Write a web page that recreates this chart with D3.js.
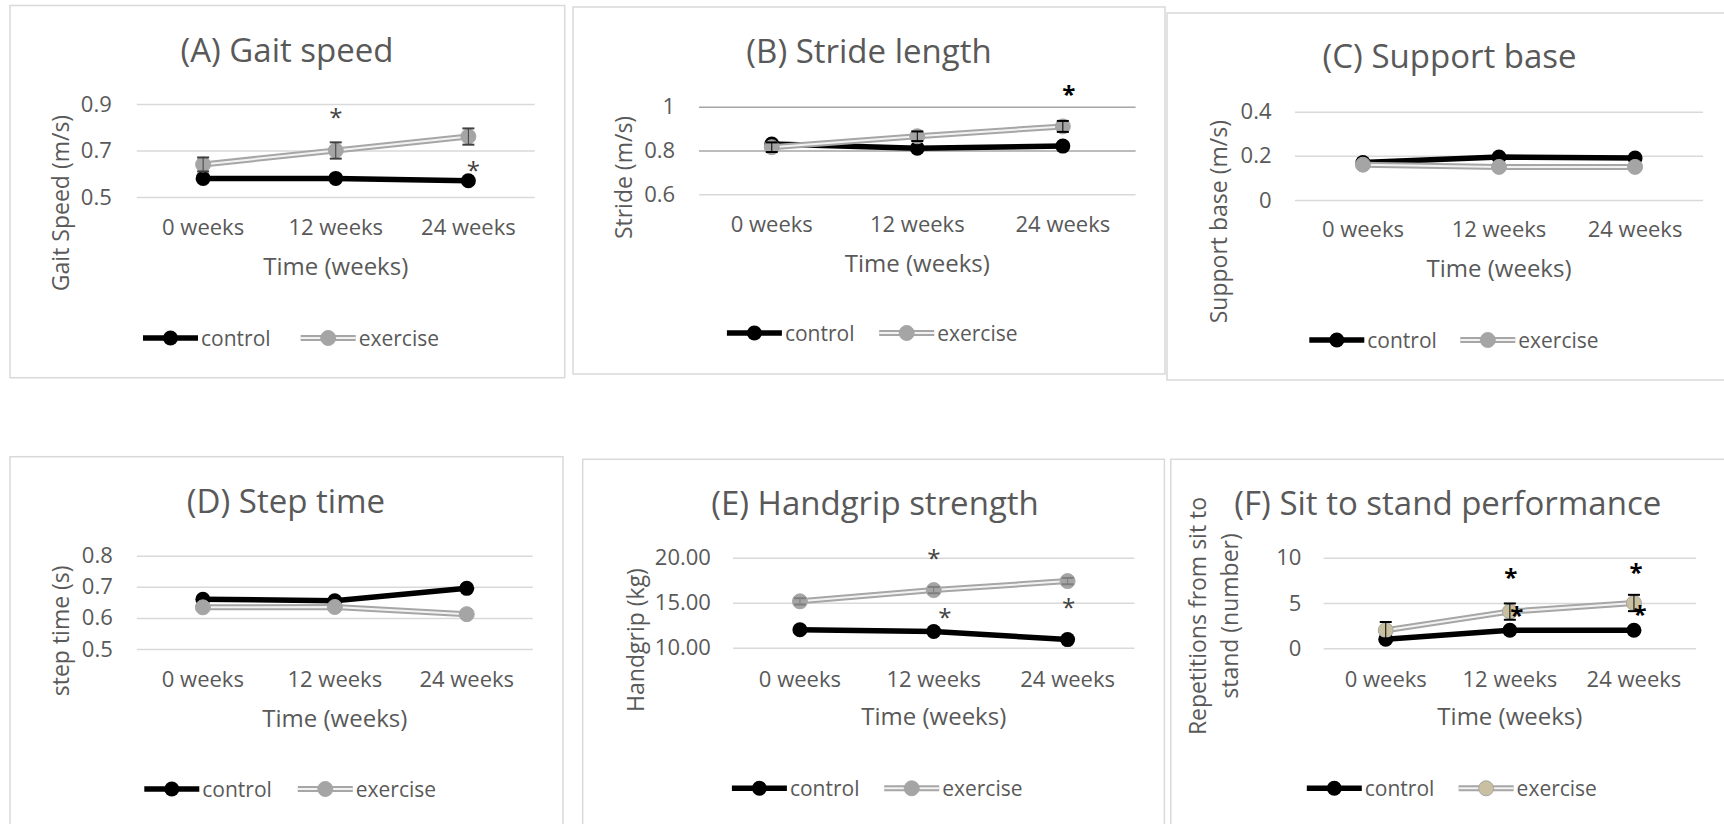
<!DOCTYPE html>
<html>
<head>
<meta charset="utf-8">
<script src="https://cdn.jsdelivr.net/npm/d3@7"></script>
<style>
  body { margin: 0; background: #fff; }
  svg { display: block; }
  text { font-family: "Open Sans", sans-serif; fill: #595959; }
</style>
</head>
<body>
<svg id="chart" width="1724" height="824"></svg>
<script>
// categories shared by all six panels
var weeks = ["0 weeks", "12 weeks", "24 weeks"];
var seriesNames = ["control", "exercise"];

// (A) gait speed
var gaitControl = [0.58, 0.58, 0.57];
var gaitExercise = [0.64, 0.70, 0.76];
var gaitExerciseErr = [0.03, 0.035, 0.035];
var gaitTicks = [0.5, 0.7, 0.9];
var gaitTickLabels = ["0.5", "0.7", "0.9"];
var gaitStars = [{ week: "12 weeks", v: 0.86, dx: 0 }, { week: "24 weeks", v: 0.63, dx: 5 }];

// (B) stride length
var strideControl = [0.83, 0.81, 0.82];
var strideExercise = [0.815, 0.865, 0.91];
var strideExerciseErr = [0.022, 0.022, 0.025];
var strideTicks = [0.6, 0.8, 1];
var strideTickLabels = ["0.6", "0.8", "1"];
var strideStars = [{ week: "24 weeks", v: 1.075, dx: 6 }];

// (C) support base
var baseControl = [0.17, 0.195, 0.19];
var baseExercise = [0.16, 0.15, 0.15];
var baseExerciseErr = [0, 0, 0];
var baseTicks = [0, 0.2, 0.4];
var baseTickLabels = ["0", "0.2", "0.4"];
var baseStars = [];

// (D) step time
var stepControl = [0.66, 0.655, 0.695];
var stepExercise = [0.634, 0.635, 0.612];
var stepExerciseErr = [0, 0, 0];
var stepTicks = [0.5, 0.6, 0.7, 0.8];
var stepTickLabels = ["0.5", "0.6", "0.7", "0.8"];
var stepStars = [];

// (E) handgrip strength
var gripControl = [12.0, 11.8, 10.9];
var gripExercise = [15.15, 16.4, 17.4];
var gripExerciseErr = [0.35, 0.35, 0.35];
var gripTicks = [10, 15, 20];
var gripTickLabels = ["10.00", "15.00", "20.00"];
var gripStars = [{ week: "12 weeks", v: 20.4, dx: 0 }, { week: "12 weeks", v: 13.8, dx: 11 }, { week: "24 weeks", v: 14.9, dx: 1 }];

// (F) sit to stand
var sitControl = [1.0, 2.0, 2.0];
var sitExercise = [2.0, 4.05, 5.0];
var sitExerciseErr = [0.9, 0.9, 0.9];
var sitTicks = [0, 5, 10];
var sitTickLabels = ["0", "5", "10"];
var sitStars = [{ week: "12 weeks", v: 8.3, dx: 1 }, { week: "12 weeks", v: 4.05, dx: 7 }, { week: "24 weeks", v: 8.8, dx: 2 }, { week: "24 weeks", v: 4.2, dx: 6 }];

var panels = [
  { title: "(A) Gait speed", yTitle: ["Gait Speed (m/s)"], control: gaitControl, exercise: gaitExercise, err: gaitExerciseErr,
    ticks: gaitTicks, tickLabels: gaitTickLabels, stars: gaitStars,
    layout: { box: [10, 5.5, 564.7, 377.7], plotX: [136.8, 534.7], yRange: [197, 104], tickRight: 111.8, titleX: 287, titleY: 62,
      xTickY: 235, xTitleY: 275, yTitleX: [60.5], yTitleY: 203, legendY: 338, legendX: [143, 300.7],
      errColor: "#404040", starColor: "#404040", starWeight: "normal", exFill: "#a5a5a5" } },
  { title: "(B) Stride length", yTitle: ["Stride (m/s)"], control: strideControl, exercise: strideExercise, err: strideExerciseErr,
    ticks: strideTicks, tickLabels: strideTickLabels, stars: strideStars,
    layout: { box: [573, 7, 1165, 374], plotX: [699, 1135.6], yRange: [194.3, 106.7], tickRight: 675.2, titleX: 869, titleY: 63,
      xTickY: 231.7, xTitleY: 271.7, yTitleX: [623.6], yTitleY: 177.5, legendY: 333, legendX: [726.9, 879.2],
      gridColors: ["#d9d9d9", "#a6a6a6", "#a6a6a6"],
      errColor: "#000", starColor: "#000", starWeight: "bold", exFill: "#a5a5a5" } },
  { title: "(C) Support base", yTitle: ["Support base (m/s)"], control: baseControl, exercise: baseExercise, err: baseExerciseErr,
    ticks: baseTicks, tickLabels: baseTickLabels, stars: baseStars,
    layout: { box: [1167, 13, 1730, 380], plotX: [1294.9, 1703.1], yRange: [200, 111.7], tickRight: 1271.5, titleX: 1449.6, titleY: 68,
      xTickY: 236.7, xTitleY: 276.7, yTitleX: [1219.4], yTitleY: 221.7, legendY: 340, legendX: [1309.3, 1460.3],
      errColor: "#000", starColor: "#000", starWeight: "bold", exFill: "#a5a5a5" } },
  { title: "(D) Step time", yTitle: ["step time (s)"], control: stepControl, exercise: stepExercise, err: stepExerciseErr,
    ticks: stepTicks, tickLabels: stepTickLabels, stars: stepStars,
    layout: { box: [10, 456.7, 563, 830], plotX: [136.9, 532.7], yRange: [649, 555.7], tickRight: 112.8, titleX: 286, titleY: 513.3,
      xTickY: 686.7, xTitleY: 726.7, yTitleX: [61], yTitleY: 630.8, legendY: 789, legendX: [144.3, 297.8],
      errColor: "#000", starColor: "#000", starWeight: "bold", exFill: "#a5a5a5" } },
  { title: "(E) Handgrip strength", yTitle: ["Handgrip (kg)"], control: gripControl, exercise: gripExercise, err: gripExerciseErr,
    ticks: gripTicks, tickLabels: gripTickLabels, stars: gripStars,
    layout: { box: [582.7, 459.3, 1164.4, 830], plotX: [733, 1134.5], yRange: [647.7, 557.7], tickRight: 710.9, titleX: 875, titleY: 515,
      xTickY: 686.7, xTitleY: 725, yTitleX: [636.2], yTitleY: 640, legendY: 788.3, legendX: [731.9, 884.2],
      errColor: "#7f7f7f", starColor: "#404040", starWeight: "normal", exFill: "#a5a5a5" } },
  { title: "(F) Sit to stand performance", yTitle: ["Repetitions from sit to", "stand (number)"], control: sitControl, exercise: sitExercise, err: sitExerciseErr,
    ticks: sitTicks, tickLabels: sitTickLabels, stars: sitStars,
    layout: { box: [1170.8, 459.3, 1730, 830], plotX: [1323.7, 1696], yRange: [648.3, 557.7], tickRight: 1301.4, titleX: 1447.8, titleY: 515,
      xTickY: 686.7, xTitleY: 725, yTitleX: [1197.8, 1230.1], yTitleY: 616, legendY: 788.3, legendX: [1306.8, 1458.6],
      errColor: "#000", starColor: "#000", starWeight: "bold", exFill: "#c8c0a0" } }
];

var svg = d3.select("#chart");

function drawPanel(p) {
  var L = p.layout;
  var g = svg.append("g");

  // chart area border
  g.append("rect")
    .attr("x", L.box[0]).attr("y", L.box[1])
    .attr("width", L.box[2] - L.box[0]).attr("height", L.box[3] - L.box[1])
    .attr("fill", "none").attr("stroke", "#d9d9d9").attr("stroke-width", 1.5);

  var x = d3.scaleBand().domain(weeks).range(L.plotX);
  var y = d3.scaleLinear().domain(d3.extent(p.ticks)).range(L.yRange);
  var xc = function(w) { return x(w) + x.bandwidth() / 2; };

  // y axis with gridlines
  var yAxis = g.append("g")
    .attr("transform", `translate(${L.plotX[0]},0)`)
    .call(d3.axisLeft(y)
      .tickValues(p.ticks)
      .tickFormat(function(d) { return p.tickLabels[p.ticks.indexOf(d)]; })
      .tickSizeInner(-(L.plotX[1] - L.plotX[0]))
      .tickSizeOuter(0)
      .tickPadding(L.plotX[0] - L.tickRight));
  yAxis.select(".domain").remove();
  yAxis.attr("font-family", null).attr("font-size", null);
  yAxis.selectAll("line")
    .attr("stroke", function(d) { return L.gridColors ? L.gridColors[p.ticks.indexOf(d)] : "#d9d9d9"; })
    .attr("stroke-width", 1.5);
  yAxis.selectAll("text").attr("font-size", 22).attr("fill", "#595959");

  // x axis labels
  var xAxis = g.append("g")
    .attr("transform", `translate(0,${L.xTickY})`)
    .call(d3.axisBottom(x).tickSize(0).tickPadding(0));
  xAxis.select(".domain").remove();
  xAxis.attr("font-family", null).attr("font-size", null);
  xAxis.selectAll("text").attr("y", 0).attr("dy", null).attr("font-size", 22).attr("fill", "#595959");

  // titles
  g.append("text").attr("x", L.titleX).attr("y", L.titleY)
    .attr("text-anchor", "middle").attr("font-size", 33).text(p.title);
  g.append("text").attr("x", (L.plotX[0] + L.plotX[1]) / 2).attr("y", L.xTitleY)
    .attr("text-anchor", "middle").attr("font-size", 24).text("Time (weeks)");
  p.yTitle.forEach(function(t, i) {
    g.append("text")
      .attr("transform", `translate(${L.yTitleX[i]},${L.yTitleY})rotate(-90)`)
      .attr("text-anchor", "middle").attr("dy", "0.35em")
      .attr("font-size", 23).text(t);
  });

  var line = d3.line()
    .x(function(d, i) { return xc(weeks[i]); })
    .y(function(d) { return y(d); });

  // control series
  g.append("path").datum(p.control).attr("d", line)
    .attr("fill", "none").attr("stroke", "#000").attr("stroke-width", 5.5);
  g.selectAll(".ctrl").data(p.control).enter().append("circle")
    .attr("cx", function(d, i) { return xc(weeks[i]); })
    .attr("cy", function(d) { return y(d); })
    .attr("r", 7.5).attr("fill", "#000");

  // exercise series, double line
  g.append("path").datum(p.exercise).attr("d", line)
    .attr("fill", "none").attr("stroke", "#a6a6a6").attr("stroke-width", 6);
  g.append("path").datum(p.exercise).attr("d", line)
    .attr("fill", "none").attr("stroke", "#f2f2f2").attr("stroke-width", 2);
  g.selectAll(".ex").data(p.exercise).enter().append("circle")
    .attr("cx", function(d, i) { return xc(weeks[i]); })
    .attr("cy", function(d) { return y(d); })
    .attr("r", 7.5).attr("fill", L.exFill).attr("stroke", "#a6a6a6").attr("stroke-width", 1);

  // error bars on exercise
  p.exercise.forEach(function(v, i) {
    var e = p.err[i];
    if (!e) return;
    var cx = xc(weeks[i]);
    var eg = g.append("g").attr("stroke", L.errColor).attr("stroke-width", 2);
    eg.append("line").attr("x1", cx).attr("x2", cx).attr("y1", y(v - e)).attr("y2", y(v + e)).attr("stroke-width", 1);
    eg.append("line").attr("x1", cx - 6).attr("x2", cx + 6).attr("y1", y(v + e)).attr("y2", y(v + e));
    eg.append("line").attr("x1", cx - 6).attr("x2", cx + 6).attr("y1", y(v - e)).attr("y2", y(v - e));
  });

  // significance asterisks
  p.stars.forEach(function(s) {
    g.append("text")
      .attr("x", xc(s.week) + s.dx).attr("y", y(s.v) + 12.5)
      .attr("text-anchor", "middle").attr("font-size", 24)
      .attr("font-weight", L.starWeight)
      .style("fill", L.starColor).text("*");
  });

  // legend
  var lx = L.legendX[0], ly = L.legendY;
  g.append("line").attr("x1", lx).attr("x2", lx + 55).attr("y1", ly).attr("y2", ly)
    .attr("stroke", "#000").attr("stroke-width", 5.5);
  g.append("circle").attr("cx", lx + 27.5).attr("cy", ly).attr("r", 7.5).attr("fill", "#000");
  g.append("text").attr("x", lx + 58).attr("y", ly + 7.5).attr("font-size", 21).text(seriesNames[0]);

  var ex = L.legendX[1];
  g.append("line").attr("x1", ex).attr("x2", ex + 55).attr("y1", ly).attr("y2", ly)
    .attr("stroke", "#a6a6a6").attr("stroke-width", 6);
  g.append("line").attr("x1", ex).attr("x2", ex + 55).attr("y1", ly).attr("y2", ly)
    .attr("stroke", "#f2f2f2").attr("stroke-width", 2);
  g.append("circle").attr("cx", ex + 27.5).attr("cy", ly).attr("r", 7.5)
    .attr("fill", L.exFill).attr("stroke", "#a6a6a6").attr("stroke-width", 1);
  g.append("text").attr("x", ex + 58).attr("y", ly + 7.5).attr("font-size", 21).text(seriesNames[1]);
}

panels.forEach(drawPanel);
</script>
</body>
</html>
